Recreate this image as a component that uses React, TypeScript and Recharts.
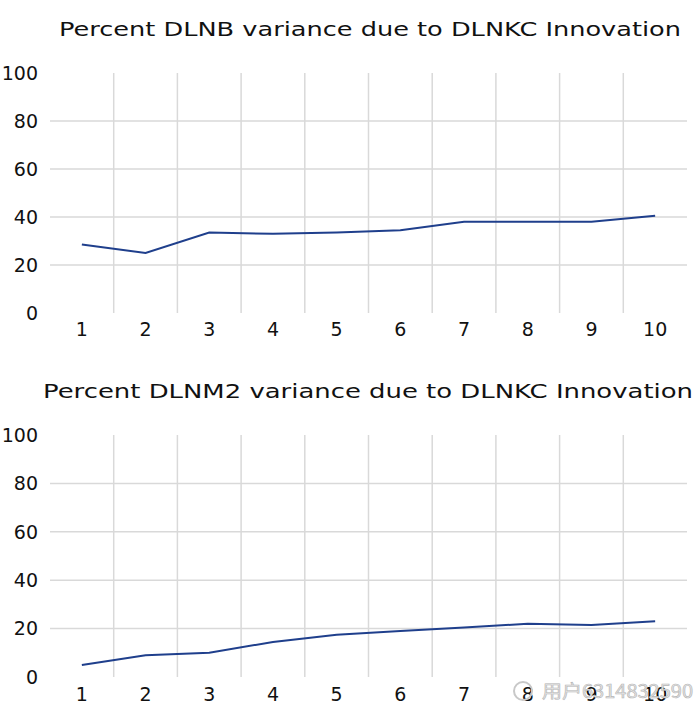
import React from 'react';
import { LineChart, Line, XAxis, YAxis, ReferenceLine } from 'recharts';

const periods = [1, 2, 3, 4, 5, 6, 7, 8, 9, 10];
const dlnbShare = [28.5, 25, 33.5, 33, 33.5, 34.5, 38, 38, 38, 40.5];
const dlnm2Share = [5, 9, 10, 14.5, 17.5, 19, 20.5, 22, 21.5, 23];
const yTicks = [0, 20, 40, 60, 80, 100];
const gridValues = [20, 40, 60, 80];
const titleTop = 'Percent DLNB variance due to DLNKC Innovation';
const titleBottom = 'Percent DLNM2 variance due to DLNKC Innovation';
const watermark = '用户6314832590';

const FONT = 'DejaVu Sans, Verdana, sans-serif';
const LINE_COLOR = '#1f3f8c';
const GRID_COLOR = '#d9d9d9';

const boundaries = periods.slice(1).map((p) => p - 0.5);

function Panel({ values, marginTop, xAxisHeight, tickMargin }: { values: number[]; marginTop: number; xAxisHeight: number; tickMargin: number }) {
  const data = periods.map((p, i) => ({ period: p, value: values[i] }));
  return (
    <LineChart width={700} height={354} data={data} margin={{ top: marginTop, right: 13, left: 0, bottom: 0 }}>
      <XAxis
        dataKey="period"
        type="number"
        domain={[0.5, 10.5]}
        ticks={periods}
        axisLine={false}
        tickLine={false}
        tickSize={0}
        tickMargin={tickMargin}
        height={xAxisHeight}
        interval={0}
        tick={{ fill: '#111', fontSize: 19, fontFamily: FONT }}
      />
      <YAxis
        type="number"
        domain={[0, 100]}
        ticks={yTicks}
        axisLine={false}
        tickLine={false}
        tickSize={0}
        tickMargin={12}
        width={50}
        interval={0}
        tick={{ fill: '#111', fontSize: 19, fontFamily: FONT }}
      />
      {gridValues.map((g) => (
        <ReferenceLine key={'h' + g} y={g} stroke={GRID_COLOR} strokeWidth={1.5} ifOverflow="visible" />
      ))}
      {boundaries.map((b) => (
        <ReferenceLine key={'v' + b} x={b} stroke={GRID_COLOR} strokeWidth={1.5} ifOverflow="visible" />
      ))}
      <Line type="linear" dataKey="value" stroke={LINE_COLOR} strokeWidth={2} dot={false} isAnimationActive={false} />
    </LineChart>
  );
}

export default function App() {
  return (
    <div style={{ position: 'absolute', left: 0, top: 0, width: 700, height: 708, background: '#fff', overflow: 'hidden' }}>
      <div style={{ position: 'absolute', left: 0, top: 0 }}>
        <Panel values={dlnbShare} marginTop={73} xAxisHeight={41} tickMargin={10} />
      </div>
      <div style={{ position: 'absolute', left: 0, top: 354 }}>
        <Panel values={dlnm2Share} marginTop={81} xAxisHeight={31} tickMargin={11} />
      </div>
      <svg width={700} height={708} style={{ position: 'absolute', left: 0, top: 0, pointerEvents: 'none' }}>
        <text x={59} y={36} fontFamily={FONT} fontSize={20} fill="#111" textLength={622} lengthAdjust="spacingAndGlyphs">
          {titleTop}
        </text>
        <text x={43} y={398} fontFamily={FONT} fontSize={20} fill="#111" textLength={650} lengthAdjust="spacingAndGlyphs">
          {titleBottom}
        </text>
        <circle cx={523} cy={691} r={9} fill="none" stroke="#c8c8c8" strokeWidth={2} />
        <text x={542} y={698} fontFamily="Noto Sans CJK SC, sans-serif" fontSize={18} fill="#e6e6e6" stroke="#b5b5b5" strokeWidth={0.6} textLength={151} lengthAdjust="spacingAndGlyphs">
          {watermark}
        </text>
      </svg>
    </div>
  );
}
